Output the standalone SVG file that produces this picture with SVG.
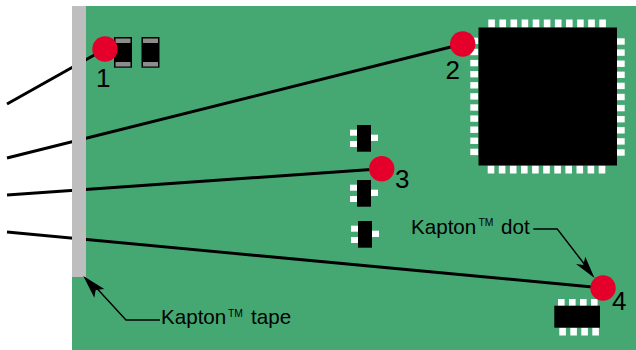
<svg xmlns="http://www.w3.org/2000/svg" width="636" height="350" viewBox="0 0 636 350">
<style>
text{font-family:"Liberation Sans",Arial,sans-serif;fill:#000}
.num{font-size:26px}
.lab{font-size:20.6px}
.tm{font-size:10.4px}
.wire{fill:none;stroke:#000;stroke-width:3}
.lead{fill:none;stroke:#000;stroke-width:1.4}
.dot{fill:#e4002b}
.pad{fill:#fff}
.body{fill:#000}
.cap{fill:#8c8c8c}
</style>
<defs>
<g id="sot">
<rect class="pad" x="-7" y="4.7" width="8" height="6"/>
<rect class="pad" x="-7" y="16" width="8" height="6"/>
<rect class="pad" x="13" y="9.7" width="8" height="6.3"/>
<rect class="body" width="14" height="26.7"/>
</g>
<g id="chipcap">
<rect class="body" width="18" height="30.7"/>
<rect class="cap" x="1.5" y="1.5" width="15" height="4.5"/>
<rect class="cap" x="1.5" y="25" width="15" height="4.5"/>
</g>
<rect id="padh" class="pad" width="8" height="6.4"/>
<rect id="padv" class="pad" width="6.6" height="8"/>
</defs>
<rect id="board" x="72" y="6" width="564" height="344" fill="#45a873"/>
<g id="connectors">
<path class="wire" d="M7 104L105 49"/>
<path class="wire" d="M7 158L462.700 44"/>
<path class="wire" d="M7 195L381.700 168.700"/>
<path class="wire" d="M7 232L603 288"/>
</g>
<rect id="tape" x="72" y="6" width="14" height="271" fill="#bebebe"/>
<g id="cap1"><use href="#chipcap" x="114" y="37"/></g>
<g id="cap2"><use href="#chipcap" x="141.500" y="37"/></g>
<g id="qfp">
<g id="qfp-top">
<use href="#padv" x="488.300" y="19.500"/><use href="#padv" x="499.400" y="19.500"/><use href="#padv" x="510.500" y="19.500"/><use href="#padv" x="521.600" y="19.500"/><use href="#padv" x="532.700" y="19.500"/><use href="#padv" x="543.800" y="19.500"/><use href="#padv" x="554.900" y="19.500"/><use href="#padv" x="566" y="19.500"/><use href="#padv" x="577.100" y="19.500"/><use href="#padv" x="588.200" y="19.500"/><use href="#padv" x="599.300" y="19.500"/>
</g>
<g id="qfp-bottom">
<use href="#padv" x="487.700" y="165.500"/><use href="#padv" x="498.800" y="165.500"/><use href="#padv" x="509.900" y="165.500"/><use href="#padv" x="521" y="165.500"/><use href="#padv" x="532.100" y="165.500"/><use href="#padv" x="543.200" y="165.500"/><use href="#padv" x="554.300" y="165.500"/><use href="#padv" x="565.400" y="165.500"/><use href="#padv" x="576.500" y="165.500"/><use href="#padv" x="587.600" y="165.500"/><use href="#padv" x="598.700" y="165.500"/>
</g>
<g id="qfp-left">
<use href="#padh" x="470.300" y="37.700"/><use href="#padh" x="470.300" y="48.800"/><use href="#padh" x="470.300" y="59.900"/><use href="#padh" x="470.300" y="71"/><use href="#padh" x="470.300" y="82.100"/><use href="#padh" x="470.300" y="93.200"/><use href="#padh" x="470.300" y="104.300"/><use href="#padh" x="470.300" y="115.400"/><use href="#padh" x="470.300" y="126.500"/><use href="#padh" x="470.300" y="137.600"/><use href="#padh" x="470.300" y="148.700"/>
</g>
<g id="qfp-right">
<use href="#padh" x="616.700" y="38.300"/><use href="#padh" x="616.700" y="49.400"/><use href="#padh" x="616.700" y="60.500"/><use href="#padh" x="616.700" y="71.600"/><use href="#padh" x="616.700" y="82.700"/><use href="#padh" x="616.700" y="93.800"/><use href="#padh" x="616.700" y="104.900"/><use href="#padh" x="616.700" y="116"/><use href="#padh" x="616.700" y="127.100"/><use href="#padh" x="616.700" y="138.200"/><use href="#padh" x="616.700" y="149.300"/>
</g>
<rect class="body" x="478.500" y="27.500" width="138.500" height="138"/>
</g>
<g id="sot1"><use href="#sot" x="357" y="125"/></g>
<g id="sot2"><use href="#sot" x="357" y="180"/></g>
<g id="sot3"><use href="#sot" x="358" y="221"/></g>
<g id="soic">
<use href="#padv" x="558" y="299"/><use href="#padv" x="569" y="299"/><use href="#padv" x="580" y="299"/><use href="#padv" x="591" y="299"/>
<use href="#padv" x="559.300" y="327.500"/><use href="#padv" x="570.300" y="327.500"/><use href="#padv" x="581.300" y="327.500"/><use href="#padv" x="592.300" y="327.500"/>
<rect class="body" x="554.300" y="305.700" width="45.700" height="22"/>
</g>
<g id="dot1"><circle class="dot" cx="105" cy="49" r="12.700"/><text class="num" x="96" y="87">1</text></g>
<g id="dot2"><circle class="dot" cx="462.700" cy="44" r="12.700"/><text class="num" x="445.500" y="78.500">2</text></g>
<g id="dot3"><circle class="dot" cx="381.700" cy="168.700" r="12.700"/><text class="num" x="395" y="187.700">3</text></g>
<g id="dot4"><circle class="dot" cx="603" cy="288" r="12.700"/><text class="num" x="612" y="310">4</text></g>
<g id="label-dot">
<text class="lab" x="411" y="233.700">Kapton</text>
<text class="tm" x="478.500" y="226">TM</text>
<text class="lab" x="501" y="233.700">dot</text>
<path class="lead" d="M533.300 229H557.300L585 265"/>
<path class="body" d="M594.500 278L576 264L583.300 265L585.300 256.700Z"/>
</g>
<g id="label-tape">
<text class="lab" x="161" y="323.500">Kapton</text>
<text class="tm" x="228" y="317">TM</text>
<text class="lab" x="251" y="323.500">tape</text>
<path class="lead" d="M160 320H126L97 288.500"/>
<path class="body" d="M83.300 276L104.300 289L95.700 290L94.300 297.700Z"/>
</g>
</svg>
